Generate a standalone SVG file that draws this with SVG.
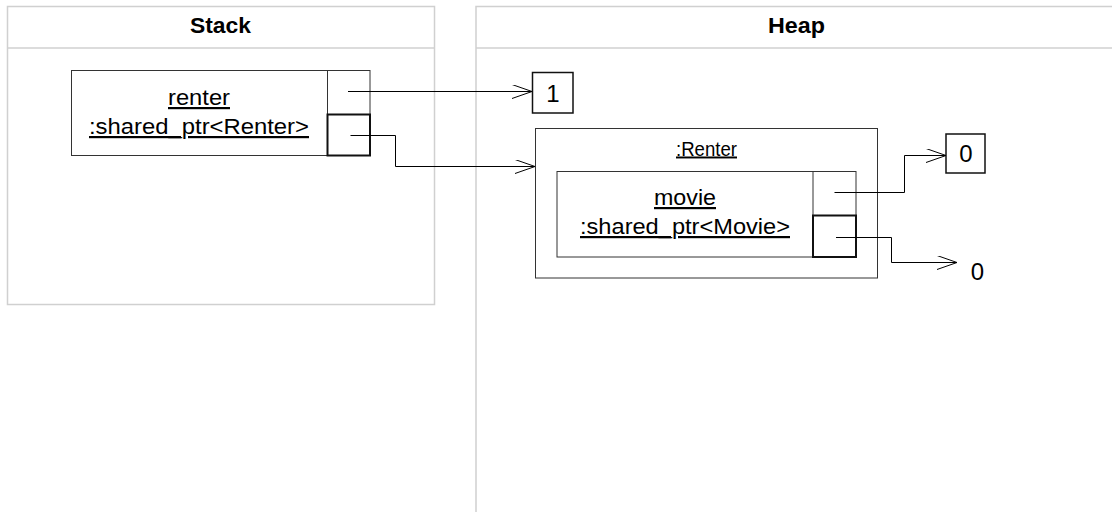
<svg xmlns="http://www.w3.org/2000/svg" width="1112" height="512" viewBox="0 0 1112 512">
<defs>
<style>
.lane{fill:#fff;stroke:#d0d0d0;stroke-width:1.5}
.title{font-family:"Liberation Sans",Arial,sans-serif;font-weight:bold;font-size:22px;fill:#000;text-anchor:middle}
.lbl{font-family:"Liberation Sans",Arial,sans-serif;font-size:22px;fill:#000;text-anchor:middle;text-decoration:underline}
.small{font-family:"Liberation Sans",Arial,sans-serif;font-size:19.5px;fill:#000;text-anchor:middle;text-decoration:underline}
.val{font-family:"Liberation Sans",Arial,sans-serif;font-size:24px;fill:#000;text-anchor:middle}
.box{fill:#fff;stroke:#333;stroke-width:1}
.slot{fill:none;stroke:#111;stroke-width:2}
.vbox{fill:#fff;stroke:#111;stroke-width:1.5}
.edge{fill:none;stroke:#000;stroke-width:1}
</style>
<marker id="open" viewBox="0 0 20 14" refX="20" refY="7" markerWidth="20" markerHeight="14" markerUnits="userSpaceOnUse" orient="auto">
<path d="M0,0 L20,7 L0,14" fill="none" stroke="#000" stroke-width="1"/>
</marker>
</defs>
<rect width="1112" height="512" fill="#fff"/>
<g id="lane-stack">
<rect class="lane" x="7.5" y="6.5" width="427" height="298"/>
<line class="lane" x1="7.5" y1="48" x2="434.5" y2="48"/>
<text class="title" x="220.5" y="33" textLength="61" lengthAdjust="spacingAndGlyphs">Stack</text>
</g>
<g id="lane-heap">
<path class="lane" d="M476,520 V6.5 H1120" fill="none"/>
<line class="lane" x1="476" y1="48" x2="1112" y2="48"/>
<text class="title" x="796.5" y="33" textLength="57" lengthAdjust="spacingAndGlyphs">Heap</text>
</g>
<g id="node-renter-ptr">
<rect class="box" x="71.5" y="70.5" width="298.5" height="85"/>
<line class="box" x1="327.5" y1="70.5" x2="327.5" y2="114.5"/>
<rect class="slot" x="327.5" y="114.5" width="42.5" height="41"/>
<text class="lbl" x="199" y="105" textLength="62" lengthAdjust="spacingAndGlyphs">renter</text>
<text class="lbl" x="199" y="134" textLength="220" lengthAdjust="spacingAndGlyphs">:shared_ptr&lt;Renter&gt;</text>
</g>
<g id="node-count1">
<rect class="vbox" x="532.5" y="72.5" width="40.5" height="40.5"/>
<text class="val" x="553" y="101.5">1</text>
</g>
<g id="node-renter">
<rect class="box" x="535.5" y="128.5" width="342" height="149.5" stroke="#555"/>
<text class="small" x="706.5" y="155.5" textLength="61" lengthAdjust="spacingAndGlyphs">:Renter</text>
</g>
<g id="node-movie-ptr">
<rect class="box" x="557" y="171.5" width="299" height="85.5"/>
<line class="box" x1="813" y1="171.5" x2="813" y2="215.5"/>
<rect class="slot" x="813" y="215.5" width="43" height="41.5"/>
<text class="lbl" x="685" y="205" textLength="62" lengthAdjust="spacingAndGlyphs">movie</text>
<text class="lbl" x="685" y="234" textLength="210" lengthAdjust="spacingAndGlyphs">:shared_ptr&lt;Movie&gt;</text>
</g>
<g id="node-count0">
<rect class="vbox" x="946" y="134" width="39" height="39"/>
<text class="val" x="966" y="162">0</text>
</g>
<g id="node-null">
<text class="val" x="977.5" y="279.5">0</text>
</g>
<g id="connectors">
<path class="edge" d="M348,91.5 H532" marker-end="url(#open)"/>
<path class="edge" d="M350.5,135.5 H395.5 V166.5 H535" marker-end="url(#open)"/>
<path class="edge" d="M834.5,192.5 H904.5 V155.5 H946" marker-end="url(#open)"/>
<path class="edge" d="M836,237.5 H891.5 V262.5 H957" marker-end="url(#open)"/>
</g>
</svg>
